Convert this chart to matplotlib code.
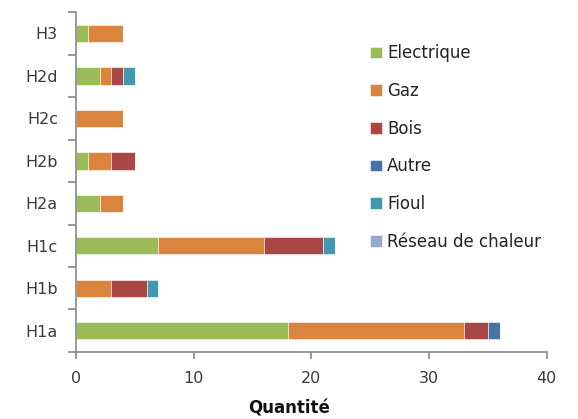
import matplotlib
matplotlib.use("Agg")
import matplotlib.pyplot as plt
import numpy as np

categories = ["H1a", "H1b", "H1c", "H2a", "H2b", "H2c", "H2d", "H3"]
series_names = ["Electrique", "Gaz", "Bois", "Autre", "Fioul", "Réseau de chaleur"]
electrique = [18, 0, 7, 2, 1, 0, 2, 1]
gaz = [15, 3, 9, 2, 2, 4, 1, 3]
bois = [2, 3, 5, 0, 2, 0, 1, 0]
autre = [1, 0, 0, 0, 0, 0, 0, 0]
fioul = [0, 1, 1, 0, 0, 0, 1, 0]
reseau = [0, 0, 0, 0, 0, 0, 0, 0]
x_ticks = [0, 10, 20, 30, 40]
x_label = "Quantité"

colors = ["#9BBB59", "#DB843D", "#AA4643", "#4572A7", "#4198AF", "#93A9CF"]
all_series = [electrique, gaz, bois, autre, fioul, reseau]

plt.rcParams['font.family'] = ['DejaVu Sans']
fig = plt.figure(figsize=(5.78, 4.19), dpi=100)
ax = fig.add_axes([0.1315, 0.160, 0.8145, 0.811])

y = np.arange(len(categories))
left = np.zeros(len(categories))
for name, vals, c in zip(series_names, all_series, colors):
    v = np.array(vals, dtype=float)
    ax.barh(y, v, left=left, height=0.41, color=c, label=name,
            edgecolor='white', linewidth=0.4)
    left += v

ax.set_xlim(0, 40)
ax.set_ylim(-0.5, len(categories) - 0.5)
ax.set_xticks(x_ticks)
ax.set_yticks(y)
ax.set_yticklabels(categories)
ax.set_yticks(np.arange(-0.5, len(categories), 1.0), minor=True)
ax.tick_params(axis='y', which='major', length=0, labelsize=11.5, pad=13, labelcolor='#3a3a3a')
ax.tick_params(axis='y', which='minor', length=6, color='#888888', width=1.2)
ax.tick_params(axis='x', which='major', length=5, color='#888888', width=1.2,
               labelsize=11.5, pad=9, labelcolor='#3a3a3a')
for s in ['top', 'right']:
    ax.spines[s].set_visible(False)
for s in ['left', 'bottom']:
    ax.spines[s].set_color('#888888')
    ax.spines[s].set_linewidth(1.2)
fig.text(0.5, 1 - 408 / 419, x_label, fontsize=12, fontweight='bold',
         color='#111111', ha='center', va='center')

leg = ax.legend(loc='upper left', bbox_to_anchor=(0.61, 0.925), frameon=False,
                fontsize=12, labelspacing=1.18, handlelength=0.7, handleheight=0.7,
                handletextpad=0.35, borderaxespad=0)
for t in leg.get_texts():
    t.set_color('#222222')

fig.savefig("out.png", dpi=100)
